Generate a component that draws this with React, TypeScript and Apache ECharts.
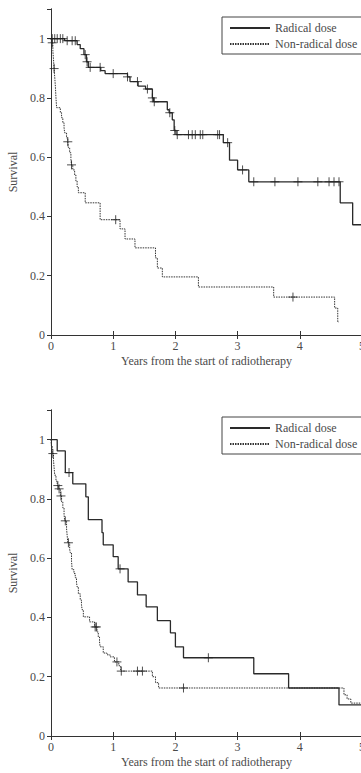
import React, { useEffect, useRef } from "react";
import * as echarts from "echarts";

// ---- Data (years, survival) ----
const xTickValues = [0, 1, 2, 3, 4, 5];
const yTickValues = [0, 0.2, 0.4, 0.6, 0.8, 1];
const seriesNames = ["Radical dose", "Non-radical dose"];

// Top panel – Radical dose
const radTopT = [0, 0.22, 0.42, 0.47, 0.53, 0.57, 0.6, 0.8, 0.87, 1.23, 1.27, 1.4, 1.52, 1.63, 1.65, 1.87, 1.9, 1.95, 1.98, 2.01, 2.77, 2.87, 3.0, 3.18, 4.65, 4.85, 5.0];
const radTopS = [1.0, 0.993, 0.98, 0.966, 0.946, 0.922, 0.903, 0.892, 0.882, 0.871, 0.855, 0.84, 0.83, 0.8, 0.787, 0.76, 0.75, 0.726, 0.69, 0.676, 0.649, 0.59, 0.557, 0.517, 0.446, 0.372, 0.372];
const radTopCensor = [0.02, 0.06, 0.1, 0.15, 0.19, 0.26, 0.34, 0.39, 0.55, 0.58, 0.63, 0.79, 1.0, 1.23, 1.39, 1.55, 1.63, 1.66, 1.91, 1.99, 2.03, 2.21, 2.27, 2.32, 2.4, 2.44, 2.68, 2.71, 2.84, 3.08, 3.26, 3.6, 3.97, 4.29, 4.47, 4.55, 4.63];

// Top panel – Non-radical dose
const nonTopT = [0, 0.01, 0.03, 0.04, 0.05, 0.06, 0.07, 0.08, 0.09, 0.15, 0.17, 0.19, 0.21, 0.22, 0.25, 0.27, 0.28, 0.3, 0.32, 0.33, 0.35, 0.38, 0.4, 0.42, 0.44, 0.55, 0.79, 1.11, 1.19, 1.35, 1.68, 1.71, 1.79, 2.37, 3.58, 4.56, 4.61, 4.63];
const nonTopS = [1, 0.986, 0.959, 0.93, 0.899, 0.87, 0.84, 0.8, 0.767, 0.75, 0.733, 0.716, 0.699, 0.682, 0.665, 0.652, 0.632, 0.615, 0.592, 0.574, 0.557, 0.54, 0.52, 0.5, 0.48, 0.446, 0.389, 0.358, 0.324, 0.294, 0.26, 0.226, 0.196, 0.162, 0.128, 0.091, 0.044, 0.044];
const nonTopCensor = [0.02, 0.05, 0.27, 0.33, 1.04, 3.89];

// Bottom panel – Radical dose
const radBotT = [0, 0.1, 0.23, 0.35, 0.56, 0.6, 0.82, 0.84, 1.0, 1.08, 1.24, 1.39, 1.53, 1.71, 1.92, 2.0, 2.13, 3.26, 3.82, 4.63, 5.0];
const radBotS = [1, 0.962, 0.889, 0.851, 0.807, 0.73, 0.686, 0.645, 0.605, 0.564, 0.52, 0.476, 0.436, 0.389, 0.348, 0.301, 0.264, 0.21, 0.162, 0.105, 0.105];
const radBotCensor = [0.29, 1.11, 2.53];

// Bottom panel – Non-radical dose
const nonBotT = [0, 0.005, 0.02, 0.04, 0.05, 0.06, 0.08, 0.1, 0.12, 0.15, 0.17, 0.19, 0.21, 0.22, 0.25, 0.26, 0.27, 0.3, 0.31, 0.33, 0.34, 0.37, 0.39, 0.41, 0.42, 0.44, 0.47, 0.49, 0.5, 0.52, 0.62, 0.7, 0.74, 0.76, 0.78, 0.79, 0.84, 0.9, 0.95, 1.02, 1.09, 1.12, 1.63, 1.68, 1.73, 4.71, 4.76, 4.82, 5.0];
const nonBotS = [1, 0.98, 0.953, 0.93, 0.905, 0.88, 0.86, 0.845, 0.834, 0.81, 0.79, 0.77, 0.748, 0.726, 0.7, 0.676, 0.652, 0.63, 0.618, 0.59, 0.561, 0.548, 0.534, 0.518, 0.503, 0.48, 0.459, 0.443, 0.426, 0.402, 0.385, 0.368, 0.351, 0.334, 0.318, 0.301, 0.28, 0.274, 0.267, 0.25, 0.237, 0.219, 0.2, 0.18, 0.162, 0.139, 0.125, 0.111, 0.111];
const nonBotCensor = [0.03, 0.11, 0.13, 0.16, 0.23, 0.28, 0.71, 0.73, 1.06, 1.13, 1.39, 1.47, 2.13];

const FONT = "Liberation Serif";
const AXIS_COLOR = "#333";
const TEXT_COLOR = "#4a4a4a";
const LINE_COLOR = "#2a2a2a";

function pairs(t: number[], s: number[]) {
  return t.map((v, i) => [v, s[i]]);
}
function stepValue(t: number[], s: number[], x: number) {
  let v = s[0];
  for (let i = 0; i < t.length; i++) if (t[i] <= x) v = s[i];
  return v;
}
function censorPoints(t: number[], s: number[], c: number[]) {
  return c.map((x) => [x, stepValue(t, s, x)]);
}

const gridTops = [9, 410];

export default function App() {
  const ref = useRef<HTMLDivElement>(null);
  useEffect(() => {
    if (!ref.current) return;
    const chart = echarts.init(ref.current, undefined, { renderer: "svg" });

    const grids = gridTops.map((top) => ({
      left: 51, top, width: 311, height: 326, containLabel: false, outerBoundsMode: "none",
    }));

    const xAxes: any[] = [];
    const yAxes: any[] = [];
    gridTops.forEach((_, g) => {
      xAxes.push({
        type: "value", gridIndex: g, position: "bottom", min: 0, max: 5, interval: 1,
        name: "Years from the start of radiotherapy", nameLocation: "middle", nameGap: 20,
        nameTextStyle: { fontFamily: FONT, fontSize: 12, color: TEXT_COLOR },
        axisLine: { show: true, lineStyle: { color: AXIS_COLOR, width: 1 } },
        axisTick: { show: true, inside: true, length: 4, lineStyle: { color: AXIS_COLOR } },
        axisLabel: { fontFamily: FONT, fontSize: 12, color: TEXT_COLOR, margin: 5, hideOverlap: false,
          formatter: (v: number) => (xTickValues.includes(v) ? String(v) : "") },
        splitLine: { show: false },
      });
      xAxes.push({
        type: "value", gridIndex: g, position: "top", min: 0, max: 5, interval: 1,
        axisLine: { show: true, lineStyle: { color: AXIS_COLOR, width: 1 } },
        axisTick: { show: true, inside: true, length: 4, lineStyle: { color: AXIS_COLOR } },
        axisLabel: { show: false }, splitLine: { show: false },
      });
      yAxes.push({
        type: "value", gridIndex: g, position: "left", min: 0, max: 1.1, interval: 0.2,
        name: "Survival", nameLocation: "middle", nameGap: 27,
        nameTextStyle: { fontFamily: FONT, fontSize: 12, color: TEXT_COLOR },
        axisLine: { show: true, lineStyle: { color: AXIS_COLOR, width: 1 } },
        axisTick: { show: true, inside: false, length: 3, lineStyle: { color: AXIS_COLOR } },
        axisLabel: { fontFamily: FONT, fontSize: 12, color: TEXT_COLOR, margin: 6,
          formatter: (v: number) => {
            const r = Math.round(v * 10) / 10;
            if (!yTickValues.some((y) => Math.abs(y - r) < 1e-6) || Math.abs(v - r) > 1e-6) return "";
            return r === 0 ? "0" : r === 1 ? "1" : r.toFixed(1);
          } },
        splitLine: { show: false },
      });
      yAxes.push({
        type: "value", gridIndex: g, position: "right", min: 0, max: 1.1, interval: 0.2,
        axisLine: { show: true, lineStyle: { color: AXIS_COLOR, width: 1 } },
        axisTick: { show: true, inside: true, length: 4, lineStyle: { color: AXIS_COLOR } },
        axisLabel: { show: false }, splitLine: { show: false },
      });
    });

    const panels = [
      { rt: radTopT, rs: radTopS, rc: radTopCensor, nt: nonTopT, ns: nonTopS, nc: nonTopCensor },
      { rt: radBotT, rs: radBotS, rc: radBotCensor, nt: nonBotT, ns: nonBotS, nc: nonBotCensor },
    ];

    const solidStyle = { color: LINE_COLOR, width: 1.3, type: "solid" as const };
    const dottedStyle = { color: "#333", width: 1, type: [1.5, 1] as any };
    const censorSymbol = "path://M5,0L5,10M0,5L10,5";

    const series: any[] = [];
    panels.forEach((p, g) => {
      const xi = g * 2;
      const yi = g * 2;
      series.push({
        name: seriesNames[0], type: "line", step: "end", xAxisIndex: xi, yAxisIndex: yi,
        data: pairs(p.rt, p.rs), symbol: "none", showSymbol: false,
        lineStyle: solidStyle, itemStyle: { color: LINE_COLOR }, z: 3,
      });
      series.push({
        name: seriesNames[1], type: "line", step: "end", xAxisIndex: xi, yAxisIndex: yi,
        data: pairs(p.nt, p.ns), symbol: "none", showSymbol: false,
        lineStyle: dottedStyle, itemStyle: { color: "#333" }, z: 2,
      });
      series.push({
        name: seriesNames[0] + " censored", type: "scatter", xAxisIndex: xi, yAxisIndex: yi,
        data: censorPoints(p.rt, p.rs, p.rc), symbol: censorSymbol, symbolSize: 9,
        itemStyle: { color: "none", borderColor: "#222", borderWidth: 1 }, z: 4,
      });
      series.push({
        name: seriesNames[1] + " censored", type: "scatter", xAxisIndex: xi, yAxisIndex: yi,
        data: censorPoints(p.nt, p.ns, p.nc), symbol: censorSymbol, symbolSize: 9,
        itemStyle: { color: "none", borderColor: "#222", borderWidth: 1 }, z: 4,
      });
    });

    const legends = [17, 417].map((top) => ({
      data: seriesNames, orient: "vertical", left: 222, top,
      itemWidth: 40, itemHeight: 12, itemGap: 4,
      padding: [5, 5, 4, 7],
      borderColor: "#444", borderWidth: 1, backgroundColor: "#fff",
      selectedMode: false,
      itemStyle: { opacity: 0 },
      textStyle: { fontFamily: FONT, fontSize: 12, color: TEXT_COLOR },
    }));

    chart.setOption({
      animation: false,
      backgroundColor: "#fff",
      grid: grids,
      xAxis: xAxes,
      yAxis: yAxes,
      legend: legends,
      series,
    });
    return () => chart.dispose();
  }, []);

  return (
    <div
      ref={ref}
      style={{ position: "absolute", left: 0, top: 0, width: 361, height: 773 }}
    />
  );
}
